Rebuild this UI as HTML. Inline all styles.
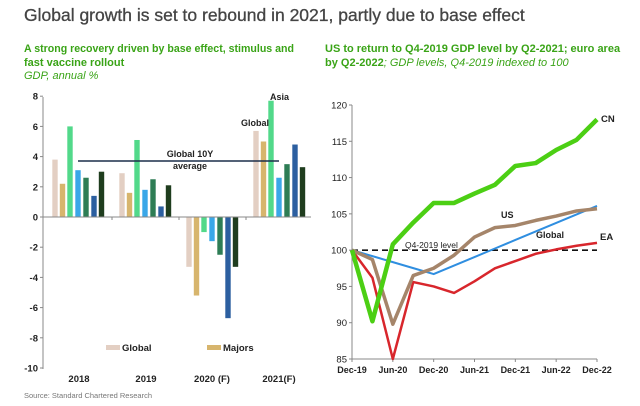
<!DOCTYPE html>
<html><head><meta charset="utf-8"><style>
body{margin:0;background:#fff;width:640px;height:401px;overflow:hidden;font-family:"Liberation Sans",sans-serif}
</style></head><body>
<svg id="s" width="640" height="401" xmlns="http://www.w3.org/2000/svg" font-family="Liberation Sans, sans-serif">
<text x="24" y="21" font-size="17.5" fill="#444" stroke="#444" stroke-width="0.3">Global growth is set to rebound in 2021, partly due to base effect</text>
<g font-size="11" font-weight="bold" fill="#3aa417">
<text x="24" y="52" textLength="270" lengthAdjust="spacingAndGlyphs">A strong recovery driven by base effect, stimulus and</text>
<text x="24" y="66">fast vaccine rollout</text>
<text x="325" y="52">US to return to Q4-2019 GDP level by Q2-2021; euro area</text>
<text x="325" y="66">by Q2-2022<tspan font-weight="normal" font-style="italic">; GDP levels, Q4-2019 indexed to 100</tspan></text>
</g>
<text x="24" y="79" font-size="11" font-style="italic" fill="#3aa417">GDP, annual %</text>
<text x="24" y="398" font-size="7.5" fill="#777">Source: Standard Chartered Research</text>
<g id="L"></g><g id="R"></g>
</svg>
<script>
const NS="http://www.w3.org/2000/svg";
function el(p,t,a,txt){const e=document.createElementNS(NS,t);for(const k in a)e.setAttribute(k,a[k]);if(txt!==undefined)e.textContent=txt;p.appendChild(e);return e;}
const L=document.getElementById('L'),R=document.getElementById('R');
const y0=217,u=15.1,ax=43;
const Y=v=>y0-v*u;
const cols=["#e3cfc3","#d7b56d","#52d98a","#3aa7e8","#2e7d55","#2c5fa0","#1f3d1e"];
const data=[[3.8,2.2,6.0,3.1,2.6,1.4,3.0],[2.9,1.6,5.1,1.8,2.5,0.7,2.1],[-3.3,-5.2,-1.0,-1.6,-2.5,-6.7,-3.3],[5.7,5.0,7.7,2.6,3.5,4.8,3.3]];
const offs=[55,62.5,70,78,86,94,101.5];
data.forEach((g,gi)=>g.forEach((v,i)=>{const cx=offs[i]+gi*67;el(L,'rect',{x:cx-2.7,y:Math.min(Y(v),y0),width:5.4,height:Math.abs(v*u),fill:cols[i]});}));
el(L,'line',{x1:ax,y1:97,x2:ax,y2:369,stroke:'#888','stroke-width':1});
el(L,'line',{x1:ax,y1:y0,x2:311,y2:y0,stroke:'#888','stroke-width':1});
for(let v=8;v>=-10;v-=2){el(L,'line',{x1:ax-3,y1:Y(v),x2:ax,y2:Y(v),stroke:'#888'});el(L,'text',{x:ax-5,y:Y(v)+3.5,'font-size':9.5,'font-weight':'bold','text-anchor':'end',fill:'#222'},v);}
[112,179,246].forEach(x=>el(L,'line',{x1:x,y1:y0,x2:x,y2:y0+3,stroke:'#888'}));
[["2018",79],["2019",146],["2020 (F)",212],["2021(F)",279]].forEach(a=>el(L,'text',{x:a[1],y:382,'font-size':9.5,'font-weight':'bold','text-anchor':'middle',fill:'#222'},a[0]));
el(L,'line',{x1:78,y1:161,x2:279,y2:161,stroke:'#1c2e4a','stroke-width':1.5});
el(L,'text',{x:190,y:157,'font-size':9,'font-weight':'bold','text-anchor':'middle',fill:'#222'},'Global 10Y');
el(L,'text',{x:190,y:169,'font-size':9,'font-weight':'bold','text-anchor':'middle',fill:'#222'},'average');
el(L,'text',{x:241,y:126,'font-size':9,'font-weight':'bold',fill:'#222'},'Global');
el(L,'text',{x:270,y:100,'font-size':9,'font-weight':'bold',fill:'#222'},'Asia');
el(L,'rect',{x:106,y:345,width:14,height:5,fill:cols[0]});
el(L,'text',{x:122,y:351,'font-size':9.5,'font-weight':'bold',fill:'#222'},'Global');
el(L,'rect',{x:207,y:345,width:14,height:5,fill:cols[1]});
el(L,'text',{x:223,y:351,'font-size':9.5,'font-weight':'bold',fill:'#222'},'Majors');
const rx0=352,rx1=597,ry120=105,ry85=359;
const X=i=>rx0+i*(rx1-rx0)/12, RY=v=>ry85-(v-85)*(ry85-ry120)/35;
el(R,'line',{x1:rx0,y1:ry120,x2:rx0,y2:ry85,stroke:'#888'});
el(R,'line',{x1:rx0,y1:ry85,x2:rx1,y2:ry85,stroke:'#888'});
for(let v=85;v<=120;v+=5){el(R,'line',{x1:rx0-3,y1:RY(v),x2:rx0,y2:RY(v),stroke:'#888'});el(R,'text',{x:rx0-5,y:RY(v)+3.5,'font-size':9.5,'text-anchor':'end',fill:'#222'},v);}
["Dec-19","Jun-20","Dec-20","Jun-21","Dec-21","Jun-22","Dec-22"].forEach((t,i)=>{el(R,'line',{x1:X(i*2),y1:ry85,x2:X(i*2),y2:ry85+3,stroke:'#888'});el(R,'text',{x:X(i*2),y:373,'font-size':9,'font-weight':'bold','text-anchor':'middle',fill:'#222'},t);});
el(R,'line',{x1:rx0,y1:RY(100),x2:rx1,y2:RY(100),stroke:'#111','stroke-width':1.6,'stroke-dasharray':'6,4'});
const pts=a=>a.map((v,i)=>X(i)+','+RY(v)).join(' ');
const g=[100];for(let i=1;i<=4;i++)g.push(100-3.3*i/4);for(let i=5;i<=12;i++)g.push(96.7+(106.1-96.7)*(i-4)/8);
el(R,'polyline',{points:pts([100,96.2,85,95.6,95,94.1,95.7,97.5,98.5,99.5,100.1,100.6,101]),fill:'none',stroke:'#d8262c','stroke-width':2.5,'stroke-linejoin':'round'});
el(R,'polyline',{points:pts(g),fill:'none',stroke:'#2f8ee0','stroke-width':2,'stroke-linejoin':'round'});
el(R,'polyline',{points:pts([100,98.7,89.8,96.5,97.5,99.3,101.8,103.1,103.4,104.1,104.7,105.4,105.7]),fill:'none',stroke:'#a5856a','stroke-width':3.5,'stroke-linejoin':'round'});
el(R,'polyline',{points:pts([100,90.2,100.8,103.8,106.5,106.5,107.8,109,111.6,112,113.8,115.2,118]),fill:'none',stroke:'#4ccf14','stroke-width':4.5,'stroke-linejoin':'round'});
el(R,'text',{x:405,y:248,'font-size':8.5,fill:'#222'},'Q4-2019 level');
el(R,'text',{x:501,y:218,'font-size':9,'font-weight':'bold',fill:'#222'},'US');
el(R,'text',{x:536,y:238,'font-size':9,'font-weight':'bold',fill:'#222'},'Global');
el(R,'text',{x:601,y:122,'font-size':9.5,'font-weight':'bold',fill:'#222'},'CN');
el(R,'text',{x:600,y:240,'font-size':9.5,'font-weight':'bold',fill:'#222'},'EA');
</script>
</body></html>
